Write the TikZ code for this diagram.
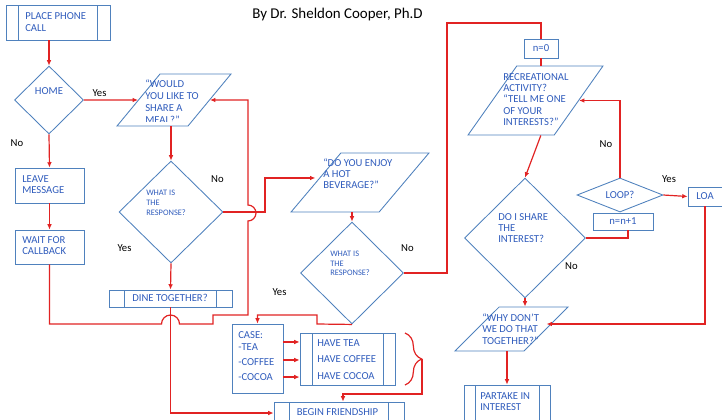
\documentclass[tikz,border=0pt]{standalone}
\usepackage{fontspec}
\setmainfont{Carlito}
\usetikzlibrary{shapes.geometric,arrows.meta,decorations.pathreplacing,calc}
\definecolor{bord}{RGB}{79,129,189}
\definecolor{txt}{RGB}{48,92,188}
\definecolor{lnk}{RGB}{225,35,35}
\begin{document}
\begin{tikzpicture}[x=0.75pt,y=-0.75pt,
  box/.style={draw=bord, line width=0.65pt, rectangle, inner sep=0pt},
  proc/.style={box, path picture={\draw[bord,line width=0.65pt]
      ([xshift=#1]path picture bounding box.north west) -- ([xshift=#1]path picture bounding box.south west)
      ([xshift=-#1]path picture bounding box.north east) -- ([xshift=-#1]path picture bounding box.south east);}},
  dia/.style={draw=bord, line width=0.65pt, diamond, inner sep=0pt},
  para/.style={draw=bord, line width=0.65pt, trapezium, trapezium stretches=true,
      trapezium left angle=#1, trapezium right angle=180-#1, inner sep=2pt},
  tx/.style={text=txt, font=\fontsize{8}{8.5}\selectfont, inner sep=0pt, align=left, anchor=west},
  txc/.style={text=txt, font=\fontsize{8}{8.5}\selectfont, inner sep=0pt},
  sm/.style={text=txt, font=\fontsize{6.3}{7.3}\selectfont, inner sep=0pt, align=left, anchor=west},
  lbl/.style={text=black, font=\fontsize{8}{9}\selectfont, inner sep=0pt},
  conn/.style={draw=lnk, line width=0.9pt},
  arr/.style={conn, -{Latex[length=4pt,width=3.5pt]}}
]
\useasboundingbox (0,0) rectangle (722,419);

% title
\node[text=black, font=\fontsize{11.2}{12}\selectfont, inner sep=0pt] (title) at (337.5,15) {By Dr. Sheldon Cooper, Ph.D};

% shapes
\node[proc=9.4pt, minimum width=78pt, minimum height=26.25pt] (call) at (58,22.5) {};
\node[dia, minimum width=51.75pt, minimum height=51pt] (home) at (49,100) {};
\node[para=69, minimum width=85.5pt, minimum height=39pt] (meal) at (174,100) {\strut};
\node[dia, minimum width=78pt, minimum height=76.5pt] (resp1) at (171,212) {};
\node[proc=11.6pt, minimum width=92.25pt, minimum height=12.75pt] (dine) at (170.5,298.5) {};
\node[box, minimum width=51.75pt, minimum height=26.25pt] (leave) at (49.5,185.5) {};
\node[box, minimum width=51.75pt, minimum height=25.5pt] (wait) at (49.5,247) {};
\node[para=72, minimum width=103.5pt, minimum height=44.25pt] (bev) at (360,182.5) {\strut};
\node[dia, minimum width=77.25pt, minimum height=76.5pt] (resp2) at (352,273) {};
\node[box, minimum width=38.25pt, minimum height=51.75pt] (case) at (257.5,358.5) {};
\node[proc=9pt, minimum width=71.25pt, minimum height=39pt] (have) at (347.5,359) {};
\node[proc=11.6pt, minimum width=97.5pt, minimum height=16.5pt] (begin) at (339,413) {};
\node[box, minimum width=25.5pt, minimum height=14.25pt] (n0) at (541,48.5) {};
\node[para=72, minimum width=101.25pt, minimum height=51.75pt] (rec) at (535.5,100.5) {\strut};
\node[dia, minimum width=90.75pt, minimum height=90pt] (share) at (525,238) {};
\node[dia, minimum width=64.5pt, minimum height=25.5pt] (loop) at (620,195) {};
\node[box, minimum width=45pt, minimum height=12.75pt] (nn) at (623,221.5) {};
\node[box, minimum width=25.5pt, minimum height=14.25pt] (loa) at (705,196.5) {};
\node[para=66, minimum width=84.75pt, minimum height=33pt] (why) at (511.5,329) {\strut};
\node[proc=8.25pt, minimum width=64.5pt, minimum height=30pt] (partake) at (507,405) {};

% texts
\node[tx, font=\fontsize{8}{9}\selectfont] (tcall) at (25,22) {PLACE PHONE\\CALL};
\node[txc] (thome) at (49,91) {HOME};
\begin{scope}
\clip (100,60) rectangle (240,121);
\node[tx, font=\fontsize{8}{9}\selectfont] (tmeal) at (145,102) {“WOULD\\YOU LIKE TO\\SHARE A\\MEAL?”};
\end{scope}
\node[sm] (tresp1) at (146,203) {WHAT IS\\THE\\RESPONSE?};
\node[txc] (tdine) at (170,298) {DINE TOGETHER?};
\node[tx, font=\fontsize{8}{8.3}\selectfont] (tleave) at (22,184.5) {LEAVE\\MESSAGE};
\node[tx, font=\fontsize{8}{8.3}\selectfont] (twait) at (22,245.5) {WAIT FOR\\CALLBACK};
\node[tx, font=\fontsize{8}{8.3}\selectfont] (tbev) at (323,174) {“DO YOU ENJOY\\A HOT\\BEVERAGE?”};
\node[sm] (tresp2) at (330,263.5) {WHAT IS\\THE\\RESPONSE?};
\node[tx] (tcase) at (238,356.5) {CASE:\\-TEA\\[3pt]-COFFEE\\[3pt]-COCOA};
\node[tx, font=\fontsize{8}{12.4}\selectfont] (thave) at (317,359.5) {HAVE TEA\\HAVE COFFEE\\HAVE COCOA};
\node[txc] (tbegin) at (337.5,412) {BEGIN FRIENDSHIP};
\node[txc] (tn0) at (541,48.5) {n=0};
\node[tx] (trec) at (503,99.5) {RECREATIONAL\\ACTIVITY?\\“TELL ME ONE\\OF YOUR\\INTERESTS?”};
\node[tx] (tshare) at (498,228) {DO I SHARE\\THE\\INTEREST?};
\node[txc] (tloop) at (620,195) {LOOP?};
\node[txc] (tnn) at (623,221.5) {n=n+1};
\node[txc] (tloa) at (705,196.5) {LOA};
\node[tx, font=\fontsize{8}{8.6}\selectfont] (twhy) at (482,329) {“WHY DON’T\\WE DO THAT\\TOGETHER?”};
\node[tx, font=\fontsize{8}{8.3}\selectfont] (tpart) at (480,401.5) {PARTAKE IN\\INTEREST};

% labels
\node[lbl] (l1) at (99.5,93) {Yes};
\node[lbl] (l2) at (17,143) {No};
\node[lbl] (l3) at (217.5,179) {No};
\node[lbl] (l4) at (124.5,248) {Yes};
\node[lbl] (l5) at (407.5,248) {No};
\node[lbl] (l6) at (279.5,292) {Yes};
\node[lbl] (l7) at (571.5,266) {No};
\node[lbl] (l8) at (606,144) {No};
\node[lbl] (l9) at (669,179) {Yes};

% connectors
\draw[arr] (call.south -| home.north) -- (home.north);
\draw[arr] (home.east) -- (meal.west);
\draw[arr] (home.south) -- (leave.north);
\draw[arr] (leave.south) -- (wait.north);
\draw[arr] (resp1.north |- meal.south) -- (resp1.north);
\draw[arr] (resp1.south) -- (dine.north);
\draw[arr] (wait.south) -- (49.5,324) -- (161.5,324)
   arc[start angle=180, end angle=0, radius=6.75pt] -- (213,324) -- (213,315) -- (248,315) -- (248,221)
   arc[start angle=-90, end angle=90, radius=6pt] |- (meal.east);
\draw[arr] (resp1.east) -- (265,212) |- ([yshift=3.4pt]bev.west);
\draw[arr] (resp2.north |- bev.south) -- (resp2.north);
\draw[conn] (resp2.east) -- (447,273) -- (447,23) -| (n0.north);
\draw[conn] (n0.south) -- (n0.south |- rec.north);
\draw[arr] (resp2.south) -- (317,324) -- (317,315) -| (case.north);
\draw[arr] ([yshift=12.4pt]case.east) -- ([yshift=12.4pt]case.east -| have.west);
\draw[arr] ([yshift=-1.1pt]case.east) -- ([yshift=-1.1pt]case.east -| have.west);
\draw[arr] ([yshift=-13.9pt]case.east) -- ([yshift=-13.9pt]case.east -| have.west);
\draw[conn, decorate, decoration={brace, amplitude=12.5pt}] (405,333) -- (405,385);
\coordinate (bt) at (422,359);
\draw[arr] (bt) -- ++(0,35) -| ([xshift=3pt]begin.north);
\draw[arr] (dine.south) |- (begin.west);
\draw[arr] ([xshift=4pt]rec.south) -- (share.north);
\draw[conn] (share.east) -| ([xshift=3.75pt]nn.south);
\draw[arr] (loop.north) |- (rec.east);
\draw[arr] (loop.east) -- (loa.west);
\draw[arr] (loa.south) |- ([yshift=3.75pt]why.east);
\draw[arr] (share.south) -- (share.south |- why.north);
\draw[arr] (partake.north |- why.south) -- (partake.north);
\end{tikzpicture}
\end{document}
